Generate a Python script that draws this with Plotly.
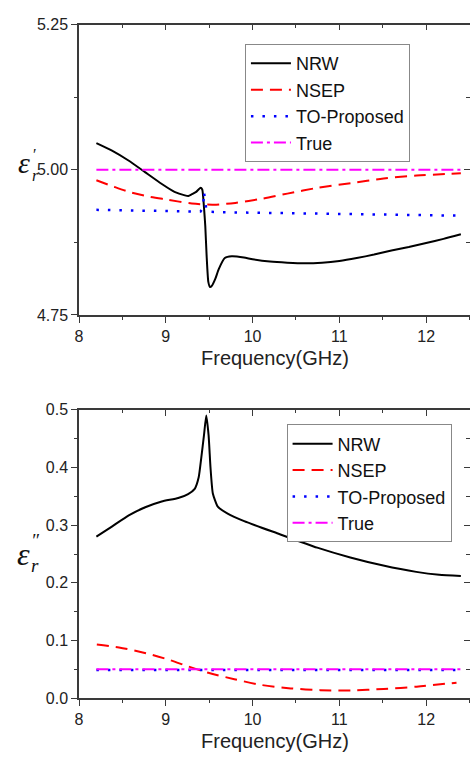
import plotly.graph_objects as go

# ---------------- data: top panel (real part) ----------------
freq_nrw_top = [8.2, 8.38, 8.57, 8.76, 8.95, 9.1, 9.22, 9.26, 9.3, 9.35, 9.40, 9.42, 9.44, 9.455,
                9.47, 9.49, 9.51, 9.53, 9.57, 9.61, 9.68, 9.76, 9.9, 10.0, 10.2, 10.4, 10.6,
                10.8, 11.0, 11.2, 11.4, 11.6, 11.8, 12.0, 12.2, 12.4]
eps_nrw_top = [5.046, 5.033, 5.016, 4.996, 4.976, 4.962, 4.956, 4.955, 4.958, 4.962, 4.969,
               4.966, 4.935, 4.903, 4.853, 4.807, 4.798, 4.800, 4.812, 4.829, 4.848, 4.851,
               4.849, 4.846, 4.842, 4.840, 4.839, 4.840, 4.843, 4.848, 4.854, 4.861, 4.867,
               4.874, 4.881, 4.889]

freq_nsep_top = [8.2, 8.4, 8.6, 8.8, 9.0, 9.3, 9.55, 9.8, 10.10, 10.40, 10.75, 11.13,
                 11.51, 11.89, 12.4]
eps_nsep_top = [4.982, 4.971, 4.961, 4.954, 4.949, 4.942, 4.940, 4.943, 4.950, 4.959, 4.969,
                4.977, 4.985, 4.990, 4.994]

freq_to_top = [8.2, 9.0, 9.4, 9.43, 9.44, 9.45, 9.47, 9.6, 10.5, 11.5, 12.4]
eps_to_top = [4.931, 4.929, 4.928, 4.935, 4.962, 4.950, 4.928, 4.927, 4.925, 4.923, 4.921]

freq_true = [8.2, 12.4]
eps_true_top = [5.0, 5.0]

# ---------------- data: bottom panel (imaginary part) ----------------
freq_nrw_bot = [8.2, 8.383, 8.573, 8.763, 8.953, 9.143, 9.257, 9.333, 9.379, 9.409, 9.44,
                9.466, 9.493, 9.515, 9.542, 9.599, 9.713, 9.903, 10.283, 10.745,
                11.126, 11.506, 11.886, 12.15, 12.4]
eps_nrw_bot = [0.280, 0.298, 0.317, 0.331, 0.341, 0.347, 0.354, 0.363, 0.383, 0.417, 0.456,
               0.490, 0.456, 0.400, 0.355, 0.332, 0.320, 0.307, 0.286, 0.261,
               0.244, 0.230, 0.219, 0.214, 0.212]

freq_nsep_bot = [8.205, 8.46, 8.77, 9.03, 9.26, 9.49, 9.79, 10.10, 10.44, 10.78, 11.13, 11.51,
                 11.89, 12.35]
eps_nsep_bot = [0.093, 0.088, 0.078, 0.067, 0.055, 0.044, 0.033, 0.023, 0.017, 0.014, 0.0135,
                0.016, 0.020, 0.027]

freq_to_bot = [8.2, 12.4]
eps_to_bot = [0.049, 0.049]
eps_true_bot = [0.05, 0.05]

series_names = ["NRW", "NSEP", "TO-Proposed", "True"]

# ---------------- styles ----------------
FONT = "Arial, Liberation Sans, sans-serif"
styles = {
    "NRW": dict(color="black", width=2, dash="solid", shape="spline", smoothing=0.5),
    "NSEP": dict(color="#ff0000", width=2, dash="12px,7px", shape="spline", smoothing=0.8),
    "TO-Proposed": dict(color="#0000ff", width=2.5, dash="2.5px,9px"),
    "True": dict(color="#ff00ff", width=2, dash="12px,4px,3px,4px"),
}

fig = go.Figure()

top = [(freq_nrw_top, eps_nrw_top), (freq_nsep_top, eps_nsep_top),
       (freq_to_top, eps_to_top), (freq_true, eps_true_top)]
bot = [(freq_nrw_bot, eps_nrw_bot), (freq_nsep_bot, eps_nsep_bot),
       (freq_to_bot, eps_to_bot), (freq_true, eps_true_bot)]

for name, (fx, fy) in zip(series_names, top):
    fig.add_trace(go.Scatter(x=fx, y=fy, mode="lines", name=name, line=styles[name],
                             xaxis="x", yaxis="y", legend="legend", hoverinfo="skip"))
for name, (fx, fy) in zip(series_names, bot):
    fig.add_trace(go.Scatter(x=fx, y=fy, mode="lines", name=name, line=styles[name],
                             xaxis="x2", yaxis="y2", legend="legend2", hoverinfo="skip"))

# empty helper traces so the mirrored (inside-tick) axes are drawn
for xa, ya in [("x3", "y"), ("x", "y3"), ("x4", "y2"), ("x2", "y4")]:
    fig.add_trace(go.Scatter(x=[], y=[], xaxis=xa, yaxis=ya, showlegend=False, hoverinfo="skip"))

XDOM = [0.161, 0.999]
TOPDOM = [1 - 314 / 760, 1 - 17 / 760]
BOTDOM = [1 - 706 / 760, 1 - 411 / 760]
AXC = "#3a3a3a"
TICKF = dict(family=FONT, size=16, color="#222")

common_x = dict(range=[8, 12.5], domain=XDOM, showline=True, linecolor=AXC, linewidth=1.5,
                ticks="outside", ticklen=6, tickcolor=AXC, tickwidth=1.2, dtick=1, tick0=8,
                showgrid=False, zeroline=False, tickfont=TICKF,
                minor=dict(ticks="outside", ticklen=3.5, dtick=0.5, tick0=8, tickcolor=AXC))
mirror_x = dict(range=[8, 12.5], domain=XDOM, showline=True, linecolor=AXC, linewidth=1.5,
                ticks="inside", ticklen=6, tickcolor=AXC, tickwidth=1.2, dtick=1, tick0=8,
                showgrid=False, zeroline=False, showticklabels=False, side="top",
                minor=dict(ticks="inside", ticklen=3.5, dtick=0.5, tick0=8, tickcolor=AXC))

fig.update_layout(
    width=470, height=760, margin=dict(l=0, r=0, t=0, b=0),
    paper_bgcolor="white", plot_bgcolor="white",
    font=dict(family=FONT, color="#222"),
    xaxis=dict(common_x, anchor="y"),
    yaxis=dict(range=[4.75, 5.25], domain=TOPDOM, anchor="x", showline=True, linecolor=AXC,
               linewidth=1.5, ticks="outside", ticklen=6, tickcolor=AXC, tickwidth=1.2,
               tickvals=[4.75, 5.0, 5.25], tickformat=".2f", showgrid=False, zeroline=False,
               tickfont=TICKF,
               minor=dict(ticks="outside", ticklen=3.5, tickvals=[4.875, 5.125], tickcolor=AXC)),
    xaxis3=dict(mirror_x, anchor="y", overlaying="x"),
    yaxis3=dict(range=[4.75, 5.25], domain=TOPDOM, anchor="x", overlaying="y", side="right",
                showline=True, linecolor=AXC, linewidth=1.5, ticks="inside", ticklen=6,
                tickcolor=AXC, tickwidth=1.2, tickvals=[4.75, 5.0, 5.25], showticklabels=False,
                showgrid=False, zeroline=False,
                minor=dict(ticks="inside", ticklen=3.5, tickvals=[4.875, 5.125], tickcolor=AXC)),
    xaxis2=dict(common_x, anchor="y2"),
    yaxis2=dict(range=[0, 0.5], domain=BOTDOM, anchor="x2", showline=True, linecolor=AXC,
                linewidth=1.5, ticks="outside", ticklen=6, tickcolor=AXC, tickwidth=1.2,
                dtick=0.1, tick0=0, tickformat=".1f", showgrid=False, zeroline=False,
                tickfont=TICKF,
                minor=dict(ticks="outside", ticklen=3.5, dtick=0.05, tick0=0, tickcolor=AXC)),
    xaxis4=dict(mirror_x, anchor="y2", overlaying="x2"),
    yaxis4=dict(range=[0, 0.5], domain=BOTDOM, anchor="x2", overlaying="y2", side="right",
                showline=True, linecolor=AXC, linewidth=1.5, ticks="inside", ticklen=6,
                tickcolor=AXC, tickwidth=1.2, dtick=0.1, tick0=0, showticklabels=False,
                showgrid=False, zeroline=False,
                minor=dict(ticks="inside", ticklen=3.5, dtick=0.05, tick0=0, tickcolor=AXC)),
    legend=dict(x=243 / 470, y=1 - 37 / 760, xanchor="left", yanchor="top",
                bgcolor="white", bordercolor="#888", borderwidth=1,
                font=dict(family=FONT, size=18, color="#111"), tracegroupgap=0,
                itemwidth=40),
    legend2=dict(x=285 / 470, y=1 - 426 / 760, xanchor="left", yanchor="top",
                 bgcolor="white", bordercolor="#888", borderwidth=1,
                 font=dict(family=FONT, size=18, color="#111"), tracegroupgap=0,
                 itemwidth=40),
    showlegend=True,
)

# axis titles
fig.add_annotation(text="Frequency(GHz)", xref="paper", yref="paper", x=(75.7 + 470) / 2 / 470,
                   y=1 - 358 / 760, showarrow=False, font=dict(family=FONT, size=20, color="#222"),
                   xanchor="center", yanchor="middle")
fig.add_annotation(text="Frequency(GHz)", xref="paper", yref="paper", x=(75.7 + 470) / 2 / 470,
                   y=1 - 750 / 760, showarrow=False, font=dict(family=FONT, size=20, color="#222"),
                   xanchor="center", yanchor="middle")

SERIF = "Liberation Serif, Times New Roman, serif"
# y-axis symbol, top: epsilon with stacked prime / subscript r
fig.add_annotation(text="<i>ε</i>", xref="paper", yref="paper", x=27 / 470, y=1 - 158 / 760,
                   showarrow=False, font=dict(family=SERIF, size=30, color="#111"),
                   xanchor="right", yanchor="middle", borderpad=0)
fig.add_annotation(text="<i>′</i><br><i>r</i>", xref="paper", yref="paper", x=27 / 470,
                   y=1 - 161 / 760, showarrow=False, align="left",
                   font=dict(family=SERIF, size=16, color="#111"),
                   xanchor="left", yanchor="middle", borderpad=0)
# y-axis symbol, bottom: epsilon with stacked double prime / subscript r
fig.add_annotation(text="<i>ε</i>", xref="paper", yref="paper", x=27 / 470, y=1 - 559 / 760,
                   showarrow=False, font=dict(family=SERIF, size=32, color="#111"),
                   xanchor="right", yanchor="middle", borderpad=0)
fig.add_annotation(text="<i>″</i><br><i>r</i>", xref="paper", yref="paper", x=26 / 470,
                   y=1 - 557 / 760, showarrow=False, align="left",
                   font=dict(family=SERIF, size=19, color="#111"),
                   xanchor="left", yanchor="middle", borderpad=0)

fig.write_html("out.html")
